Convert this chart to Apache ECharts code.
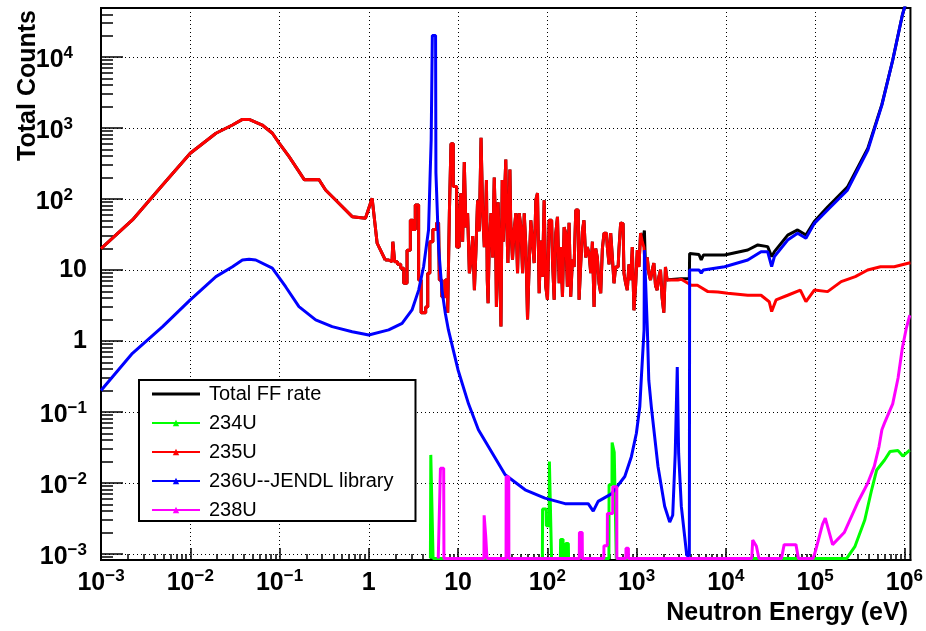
<!DOCTYPE html>
<html>
<head>
<meta charset="utf-8">
<script src="https://cdn.jsdelivr.net/npm/echarts@6/dist/echarts.min.js"></script>
<style>
  html, body { margin: 0; padding: 0; background: #fff; }
  #chart { width: 926px; height: 631px; }
</style>
</head>
<body>
<div id="chart"></div>
<script>
// axis decades (exponents of 10) used for labels / major ticks
const xDecades = [-3, -2, -1, 0, 1, 2, 3, 4, 5, 6];
const yDecades = [-3, -2, -1, 0, 1, 2, 3, 4];
const xRange = [1e-3, 1.17e6];
const yRange = [8.2e-4, 4.9e4];
const ZERO = 8.6e-4; // empty bins sit on the floor of the plot

// 235U, thermal part
const u235Low = [
  [1e-3, 20], [0.00225, 50.6], [0.0049, 157], [0.01, 440], [0.0194, 842],
  [0.0297, 1102], [0.0384, 1320], [0.0456, 1320], [0.064, 1100], [0.0832, 842],
  [0.099, 610], [0.128, 394], [0.18, 206], [0.19, 186], [0.276, 188],
  [0.328, 134], [0.425, 96.8], [0.652, 56.3], [0.918, 53.5], [1.09, 102],
  [1.24, 23.8], [1.53, 13.8]
];
// 235U, resolved resonance region (histogram)
const u235Reso = [
  [1.53, 13.8], [1.82, 13.1], [1.9, 25], [2.0, 13], [2.2, 12], [2.36, 10.6],
  [2.57, 6.5], [2.8, 19], [3.05, 50], [3.18, 37], [3.46, 82], [3.78, 7.2],
  [3.94, 2.5], [4.2, 2.5], [4.48, 3.0], [4.67, 9], [5.0, 25], [5.45, 37],
  [6.05, 46], [6.3, 7.2], [6.88, 4.2], [7.5, 7.2], [7.82, 2.5], [8.17, 63],
  [8.5, 600], [9.2, 150], [10.1, 21], [10.5, 60], [11.0, 120], [11.5, 25],
  [12.0, 330], [12.5, 40], [13.1, 63], [13.7, 9], [14.3, 14], [14.9, 30],
  [15.6, 5.2], [16.2, 20], [16.9, 96], [17.7, 35], [18.5, 730], [19.3, 60],
  [20.1, 21], [20.6, 60], [21.0, 185], [21.5, 7.2], [21.9, 3.4], [22.9, 25],
  [23.9, 63], [24.9, 15], [26.0, 200], [26.6, 40], [27.2, 3.0], [27.8, 12],
  [28.4, 90], [29.6, 20], [30.9, 1.6], [31.6, 185], [32.6, 25], [33.7, 108],
  [34.8, 360], [35.7, 40], [36.7, 12.5], [37.6, 60], [38.6, 260], [39.2, 50],
  [39.9, 30], [41.6, 14], [43.5, 36.6], [45.4, 63], [47.4, 9], [49.5, 63],
  [51.7, 40], [54, 9], [56.3, 63], [58.8, 21], [61.3, 2.0], [64, 12],
  [66.8, 50], [69.7, 25], [72.8, 12.5], [76, 97], [79.3, 121], [82.8, 4.7],
  [86.4, 26], [90.2, 8], [94.1, 96], [98.3, 5.8], [102.6, 3.8], [107, 50],
  [111.8, 50], [116.7, 13.8], [122, 3.8], [127, 33], [133, 56], [138.5, 6.5],
  [144.6, 21], [151, 4.2], [157.5, 40], [164, 33], [171.6, 5.8], [179, 46],
  [187, 4.2], [195, 14], [204, 11], [213, 70], [222, 70], [232, 3.8],
  [242, 12.5], [252, 35], [263, 50], [275, 15], [287, 21], [300, 17],
  [313, 9], [327, 25], [341, 3.0], [356, 20], [371, 15], [388, 6.5],
  [405, 4.7], [423, 20], [441, 33], [460, 33], [481, 21], [502, 12],
  [524, 33], [547, 15], [570, 6.5], [595, 11], [621, 11], [650, 20],
  [677, 46], [706, 45], [738, 9], [770, 6.5], [804, 5.2], [840, 12],
  [876, 7.2], [915, 21], [954, 2.7], [997, 6], [1040, 19], [1085, 11],
  [1133, 33], [1180, 25], [1234, 21], [1290, 10], [1344, 15], [1400, 9],
  [1465, 7.2], [1530, 10], [1596, 12.5], [1665, 6], [1738, 5.2], [1815, 8],
  [1894, 10], [1975, 4], [2063, 2.5], [2150, 11], [2250, 7.2]
];
// 235U, unresolved / fast part
const u235Fast = [
  [2250, 7.2], [2900, 7.2], [3170, 7.4], [4100, 6.1], [4800, 6.1], [6300, 4.95],
  [8150, 4.9], [10500, 4.7], [17600, 4.4], [24800, 4.4], [30600, 3.57],
  [32600, 2.59], [36500, 3.78], [49300, 4.4], [68300, 5.2], [78900, 3.57],
  [98000, 5.2], [138000, 4.95], [196000, 6.85], [282000, 8.05], [388000, 10],
  [540000, 11.1], [770000, 11.1], [1.1e6, 12.4], [1.17e6, 12.6]
];
// 236U (JENDL)
const u236 = [
  [1e-3, 0.2], [0.00225, 0.67], [0.0049, 1.59], [0.01, 3.78], [0.0194, 8.05],
  [0.0297, 11.1], [0.0384, 13.8], [0.0456, 14.1], [0.0542, 13.8], [0.083, 10.6],
  [0.117, 5.8], [0.165, 3.04], [0.254, 1.98], [0.389, 1.59], [0.652, 1.35],
  [1.0, 1.21], [1.67, 1.43], [2.36, 1.77], [3.05, 2.73], [3.62, 5.2],
  [4.11, 11.1], [4.67, 36.6], [4.85, 190], [5.0, 680], [5.12, 680],
  [5.15, 20000], [5.6, 20000], [5.65, 235], [5.85, 235], [6.05, 21], [6.6, 5.2],
  [7.2, 2.45], [7.8, 1.43], [10, 0.39], [13.1, 0.13], [16.9, 0.056],
  [33.7, 0.013], [56.4, 0.008], [94, 0.0061], [158, 0.0051], [287, 0.0051],
  [327, 0.0040], [371, 0.0055], [523, 0.0070], [738, 0.0123], [876, 0.0236],
  [995, 0.05], [1086, 0.118], [1133, 0.314], [1213, 1.43], [1224, 19],
  [1245, 19], [1321, 1.43], [1370, 0.28], [1463, 0.118], [1738, 0.017],
  [2063, 0.0047], [2350, 0.0028], [2540, 0.0035], [2710, 0.026], [2856, 0.43],
  [2960, 0.026], [3170, 0.0047], [3650, 0.00095], [3900, 0.00095], [3930, 10],
  [5000, 10], [5300, 9], [5600, 10], [9690, 11.1], [17600, 13.8], [24800, 18.1],
  [29400, 18.1], [32600, 11.1], [35000, 15.4], [49300, 26.4], [63700, 32.8],
  [78900, 28], [98000, 45.3], [138000, 70], [230000, 133], [390000, 490],
  [560000, 2100], [740000, 9000], [950000, 39000], [1.05e6, 60000]
];
// 234U
const u234 = [
  [4.9, ZERO], [4.95, 0.0248], [5.2, 0.0248], [5.25, ZERO], [88, ZERO],
  [88.5, 0.0043], [97, 0.0043], [97.5, 0.0025], [105, 0.0025], [105.5, 0.02],
  [111, 0.02], [111.5, ZERO], [140, ZERO], [141, 0.0016], [150, 0.0016],
  [151, ZERO], [160, ZERO], [161, 0.0014], [172, 0.0014], [173, ZERO],
  [234, ZERO], [235, 0.002], [245, 0.002], [246, ZERO], [490, ZERO],
  [492, 0.0094], [530, 0.0094], [532, 0.037], [560, 0.037], [562, 0.027],
  [590, 0.027], [592, ZERO], [2.25e5, ZERO], [2.8e5, 0.00128], [3.6e5, 0.003],
  [4.3e5, 0.008], [4.9e5, 0.0152], [6.0e5, 0.021], [6.9e5, 0.0276],
  [8.5e5, 0.0285], [9.6e5, 0.0239], [1.15e6, 0.029]
];
// 238U
const u238 = [
  [6.0, ZERO], [6.3, ZERO], [6.35, 0.0161], [6.9, 0.0161], [6.95, ZERO],
  [19.5, ZERO], [19.6, 0.0035], [20.3, 0.0035], [20.4, 0.0018], [21, 0.0018],
  [21.1, ZERO], [34.5, ZERO], [34.6, 0.0122], [37, 0.0122], [37.1, ZERO],
  [228, ZERO], [229, 0.002], [246, 0.002], [247, ZERO], [430, ZERO],
  [431, 0.0013], [470, 0.0013], [471, 0.0037], [540, 0.0037], [541, 0.0088],
  [600, 0.0088], [601, ZERO], [760, ZERO], [761, 0.0012], [810, 0.0012],
  [811, ZERO], [1.95e4, ZERO], [2.0e4, 0.00157], [2.2e4, 0.00128], [2.35e4, ZERO],
  [4.2e4, ZERO], [4.5e4, 0.00135], [6.1e4, 0.00135], [6.5e4, ZERO], [9.5e4, ZERO],
  [1.02e5, 0.00115], [1.21e5, 0.0026], [1.3e5, 0.0032], [1.57e5, 0.00135],
  [2.12e5, 0.002], [2.98e5, 0.0052], [3.87e5, 0.0098], [4.6e5, 0.0171],
  [5.2e5, 0.0325], [5.6e5, 0.056], [6.0e5, 0.07], [7.4e5, 0.13], [8.5e5, 0.3],
  [9.5e5, 0.8], [1.05e6, 1.5], [1.15e6, 2.3]
];
// total rate where it is not hidden under the components
const totalPeaks = [[1213, 30], [1234, 36]];
const totalFast = [
  [2250, 7.3], [3170, 7.5], [3900, 7.5], [3930, 17.1], [5000, 16.5], [5300, 13.8],
  [5600, 16.2], [9690, 16.2], [17600, 19.1], [22800, 22.5], [29400, 21.3],
  [32600, 15.4], [35000, 18.1], [49300, 31], [63700, 36.6], [78900, 31],
  [98000, 48], [138000, 77], [230000, 147], [390000, 520], [560000, 2150],
  [740000, 9000], [950000, 39000], [1.05e6, 60000]
];

const FONT = 'Liberation Sans, Arial, Helvetica, sans-serif';
const totalReso = u235Reso.filter(p => p[0] < 1200 || p[0] > 1250).concat(totalPeaks)
  .sort((a, b) => a[0] - b[0]);

function xLabel(v) {
  const e = Math.round(Math.log10(v));
  if (e === 0) return '{b|1}';
  if (e === 1) return '{b|10}';
  return '{b|10}{s|' + (e < 0 ? '\u2212' : '') + Math.abs(e) + '}';
}
// ROOT leaves room for a minus sign on the positive exponents
function yLabel(v) {
  const e = Math.round(Math.log10(v));
  if (e === 0) return '{b|1}';
  if (e === 1) return '{b|10}';
  if (e < 0) return '{B|10}{s|\u2212' + Math.abs(e) + '}';
  return '{B|10}{t|' + e + '}';
}
function minorVals(decs, range) {
  const out = [];
  decs.concat([decs[decs.length - 1] + 1]).forEach(e => {
    for (let m = 2; m <= 9; m++) {
      const v = m * Math.pow(10, e - 1);
      if (v > range[0] && v < range[1]) out.push(v);
    }
  });
  return out;
}
const xMajor = xDecades.map(e => Math.pow(10, e));
const yMajor = yDecades.map(e => Math.pow(10, e));

const base = { fontSize: 25, fontWeight: 'bold', fontFamily: FONT, color: '#000', lineHeight: 30 };
const sup = { fontSize: 17, fontWeight: 'bold', fontFamily: FONT, color: '#000', lineHeight: 16, verticalAlign: 'top' };
const xRich = { b: base, s: sup };
const yRich = {
  b: base,
  B: Object.assign({}, base, { padding: [6, 0, 0, 0] }),
  s: Object.assign({}, sup, { padding: [3, 0, 0, 0] }),
  t: Object.assign({}, sup, { padding: [3, 14, 0, 0] })
};
const dotted = { show: true, lineStyle: { color: '#000', width: 1, type: [1, 3] } };

const chart = echarts.init(document.getElementById('chart'));

function line(name, data, color, opts) {
  return Object.assign({
    name: name, type: 'line', data: data, xAxisIndex: 0, yAxisIndex: 0,
    symbol: 'triangle', symbolSize: 6, showSymbol: false,
    lineStyle: { color: color, width: 3 }, itemStyle: { color: color },
    clip: true, silent: true, animation: false
  }, opts || {});
}

chart.setOption({
  backgroundColor: '#fff',
  animation: false,
  grid: {
    left: 101, top: 8, right: 14, bottom: 71,
    show: true, borderColor: '#000', borderWidth: 2, backgroundColor: '#fff'
  },
  legend: {
    left: 139, top: 380, orient: 'vertical',
    backgroundColor: '#fff', borderColor: '#000', borderWidth: 2,
    padding: [4, 22, 1, 12], itemGap: 9, itemWidth: 48, itemHeight: 8,
    textStyle: { fontSize: 20, fontFamily: FONT, color: '#000', padding: [0, 0, 0, 4] },
    selectedMode: false,
    data: [
      { name: 'Total FF rate', icon: 'path://M0,0H48V3H0Z' },
      '234U', '235U', '236U--JENDL library', '238U'
    ]
  },
  xAxis: [{
    type: 'log', min: xRange[0], max: xRange[1], position: 'bottom',
    axisLine: { show: true, lineStyle: { color: '#000', width: 2 } },
    axisTick: { show: true, inside: true, length: 12, customValues: xMajor, lineStyle: { color: '#000', width: 1.5 } },
    axisLabel: { customValues: xMajor, formatter: xLabel, rich: xRich, margin: 8 },
    splitLine: dotted
  }, {
    type: 'log', min: xRange[0], max: xRange[1], position: 'bottom',
    axisLine: { show: false },
    axisTick: { show: true, inside: true, length: 6, customValues: minorVals(xDecades, xRange), lineStyle: { color: '#000', width: 1.5 } },
    axisLabel: { show: false }, splitLine: { show: false }
  }],
  yAxis: [{
    type: 'log', min: yRange[0], max: yRange[1], position: 'left',
    axisLine: { show: true, lineStyle: { color: '#000', width: 2 } },
    axisTick: { show: true, inside: true, length: 22, customValues: yMajor, lineStyle: { color: '#000', width: 1.5 } },
    axisLabel: { customValues: yMajor, formatter: yLabel, rich: yRich, margin: 14 },
    splitLine: dotted
  }, {
    type: 'log', min: yRange[0], max: yRange[1], position: 'left',
    axisLine: { show: false },
    axisTick: { show: true, inside: true, length: 12, customValues: minorVals(yDecades, yRange), lineStyle: { color: '#000', width: 1.5 } },
    axisLabel: { show: false }, splitLine: { show: false }
  }],
  graphic: [{
    type: 'text', x: 28, y: 10, rotation: Math.PI / 2,
    style: { text: 'Total Counts', font: 'bold 25px ' + FONT, fill: '#000', align: 'right', verticalAlign: 'middle' }
  }, {
    type: 'text', x: 908, y: 613,
    style: { text: 'Neutron Energy (eV)', font: 'bold 25px ' + FONT, fill: '#000', align: 'right', verticalAlign: 'middle' }
  }],
  series: [
    line('Total FF rate', u235Low, '#000', { symbol: 'none' }),
    line('Total FF rate', totalReso, '#000', { symbol: 'none', step: 'middle' }),
    line('Total FF rate', totalFast, '#000', { symbol: 'none' }),
    line('234U', u234, '#00ff00'),
    line('235U', u235Low, '#ff0000'),
    line('235U', u235Reso, '#ff0000', { step: 'middle' }),
    line('235U', u235Fast, '#ff0000'),
    line('236U--JENDL library', u236, '#0000ff'),
    line('238U', u238, '#ff00ff')
  ]
});
</script>
</body>
</html>
